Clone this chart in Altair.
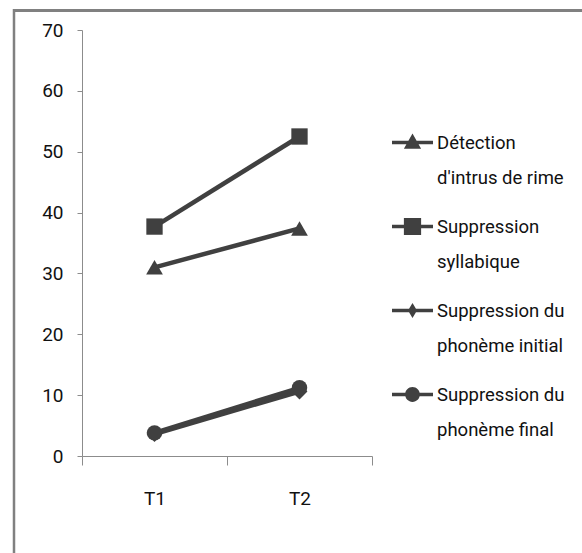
import altair as alt
import pandas as pd

# Test sessions on the x axis
times = ["T1", "T2"]

# Series names (a "\n" marks where the legend label wraps)
series = [
    "Détection\nd'intrus de rime",
    "Suppression\nsyllabique",
    "Suppression du\nphonème initial",
    "Suppression du\nphonème final",
]

# Scores per series at T1 and T2
detection = [31.0, 37.4]
syllabique = [37.7, 52.5]
phoneme_initial = [3.6, 10.6]
phoneme_final = [3.8, 11.2]

values = [detection, syllabique, phoneme_initial, phoneme_final]

# Marker styling per series
plot_shapes = ["triangle-up", "square", "diamond", "circle"]
plot_sizes = [280, 240, 120, 230]

# Legend symbols: a short line segment with the series marker on it
bar = "M-1,-0.085 H1 V0.085 H-1 Z "
legend_paths = [
    bar + "M-0.42,0.3 L0,-0.44 L0.42,0.3 Z",
    bar + "M-0.42,-0.42 H0.42 V0.42 H-0.42 Z",
    bar + "M0,-0.36 L0.22,0 L0,0.36 L-0.22,0 Z",
    bar + "M-0.36,0 A0.36,0.36 0 1 1 0.36,0 A0.36,0.36 0 1 1 -0.36,0 Z",
]

rows = []
for name, vals in zip(series, values):
    for t, v in zip(times, vals):
        rows.append({"serie": name, "temps": t, "score": v})
df = pd.DataFrame(rows)

DARK = "#404040"
AXIS = "#8c8c8c"
FONT = "Roboto, Liberation Sans, sans-serif"

x_enc = alt.X(
    "temps:N",
    sort=times,
    scale=alt.Scale(paddingInner=0, paddingOuter=0),
    axis=alt.Axis(
        title=None,
        labelAngle=0,
        tickBand="extent",
        tickSize=9,
        labelPadding=24,
    ),
)
y_enc = alt.Y(
    "score:Q",
    scale=alt.Scale(domain=[0, 70], nice=False, zero=True),
    axis=alt.Axis(
        title=None,
        values=[0, 10, 20, 30, 40, 50, 60, 70],
        tickSize=5,
        labelPadding=14,
        grid=False,
    ),
)

base = alt.Chart(df)

lines = base.mark_line(color=DARK, strokeWidth=4.5).encode(
    x=x_enc, y=y_enc, detail=alt.Detail("serie:N")
)

points = base.mark_point(filled=True, color=DARK, opacity=1).encode(
    x=x_enc,
    y=y_enc,
    shape=alt.Shape("serie:N", scale=alt.Scale(domain=series, range=plot_shapes), legend=None),
    size=alt.Size("serie:N", scale=alt.Scale(domain=series, range=plot_sizes), legend=None),
)

legend_layer = base.mark_point(filled=True, color=DARK, opacity=0).encode(
    x=x_enc,
    y=y_enc,
    shape=alt.Shape(
        "serie:N",
        scale=alt.Scale(domain=series, range=legend_paths),
        legend=alt.Legend(
            title=None,
            orient="none",
            legendX=310,
            legendY=92,
            padding=0,
            symbolSize=1681,
            symbolOpacity=1,
            symbolFillColor=DARK,
            symbolStrokeWidth=0,
            labelOffset=4,
            rowPadding=19,
            labelExpr="split(datum.label, '\\n')",
            labelFont=FONT,
            labelFontSize=18.5,
            labelColor="#111111",
            labelBaseline="middle",
            labelLimit=300,
        ),
    ),
)

# Outer chart-area frame (top and left edges)
frame_top = alt.Chart(pd.DataFrame({"k": [0]})).mark_rule(color="#808080", strokeWidth=3).encode(
    x=alt.value(-69), x2=alt.value(520), y=alt.value(-19.5)
)
frame_left = alt.Chart(pd.DataFrame({"k": [0]})).mark_rule(color="#808080", strokeWidth=2.5).encode(
    x=alt.value(-68), y=alt.value(-21), y2=alt.value(540)
)

chart = (
    alt.layer(frame_top, frame_left, lines, points, legend_layer)
    .resolve_scale(shape="independent", size="independent")
    .properties(
        width=290,
        height=426,
        padding={"left": 82, "top": 30, "right": 210, "bottom": 97},
        autosize=alt.AutoSizeParams(type="none"),
        background="white",
    )
    .configure(style={"guide-label": {"lineHeight": 35}})
    .configure_view(stroke=None)
    .configure_axis(
        domainColor=AXIS,
        tickColor=AXIS,
        domainWidth=1,
        tickWidth=1,
        labelFont=FONT,
        labelFontSize=19,
        labelColor="#111111",
    )
)

chart.save("out.html", embed_options={"renderer": "svg", "actions": False})
